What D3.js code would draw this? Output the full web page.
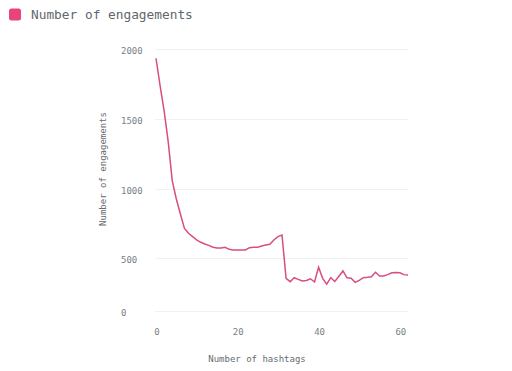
<!DOCTYPE html>
<head>
<meta charset="utf-8">
<script src="https://d3js.org/d3.v7.min.js"></script>
<style>
body {
	margin: 0;
	background: #fff;
}
text {
	font-family: "DejaVu Sans Mono", "Liberation Mono", monospace;
}
.grid line {
	stroke: #f1f1f1;
	stroke-width: 1;
}
.tick-label {
	font-size: 9px;
	fill: #7a7f85;
}
.axis-title {
	font-size: 9px;
	fill: #666b70;
}
.line {
	fill: none;
	stroke: #d94c84;
	stroke-width: 1.5px;
}
</style>
</head>
<body>
<svg id="chart" width="512" height="371"></svg>
<script>

// number of hashtags 0..62
var hashtags = d3.range(0, 63);

var engagements = [
	1936, 1740, 1560, 1340, 1060, 930, 821, 717, 681, 657,
	633, 616, 604, 594, 580, 575, 575, 580, 565, 560,
	560, 560, 560, 577, 580, 580, 589, 596, 601, 633,
	657, 669, 310, 278, 316, 300, 285, 290, 306, 275,
	415, 310, 255, 316, 280, 330, 380, 315, 310, 272,
	290, 316, 320, 325, 367, 332, 332, 345, 362, 365,
	362, 345, 342
];

var yTicks = [0, 500, 1000, 1500, 2000];
var xTicks = [0, 20, 40, 60];

var data = hashtags.map((h, i) => ({h: h, v: engagements[i]}));

var svg = d3.select("#chart");

var x = d3.scaleLinear()
	.domain([0, 62])
	.range([156, 408]);

// the source axis is not evenly spaced below 500
var y = d3.scaleLinear()
	.domain(yTicks)
	.range([311, 258.3, 189.3, 119.3, 49.3]);

// legend
svg.append("rect")
	.attr("x", 9)
	.attr("y", 8.5)
	.attr("width", 12)
	.attr("height", 12)
	.attr("rx", 2.5)
	.style("fill", "#e8437a");

svg.append("text")
	.attr("x", 31)
	.attr("y", 18.5)
	.style("font-size", "12.8px")
	.style("fill", "#62676c")
	.text("Number of engagements");

// grid
svg.append("g")
	.attr("class", "grid")
	.selectAll("line")
	.data(yTicks)
	.join("line")
	.attr("x1", 155)
	.attr("x2", 408)
	.attr("y1", d => Math.round(y(d)) + 0.5)
	.attr("y2", d => Math.round(y(d)) + 0.5);

// y tick labels (left aligned)
svg.append("g")
	.selectAll("text")
	.data(yTicks)
	.join("text")
	.attr("class", "tick-label")
	.attr("x", 121)
	.attr("y", d => y(d) + 4.5)
	.text(d => d);

// x tick labels
svg.append("g")
	.selectAll("text")
	.data(xTicks)
	.join("text")
	.attr("class", "tick-label")
	.attr("text-anchor", "middle")
	.attr("x", d => x(d) + 1)
	.attr("y", 335)
	.text(d => d);

svg.append("text")
	.attr("class", "axis-title")
	.attr("text-anchor", "middle")
	.attr("x", 257)
	.attr("y", 362)
	.text("Number of hashtags");

svg.append("text")
	.attr("class", "axis-title")
	.attr("text-anchor", "middle")
	.attr("transform", "translate(106,169) rotate(-90)")
	.text("Number of engagements");

var line = d3.line()
	.x(d => x(d.h))
	.y(d => y(d.v));

svg.append("path")
	.datum(data)
	.attr("class", "line")
	.attr("d", line);

</script>
</body>
